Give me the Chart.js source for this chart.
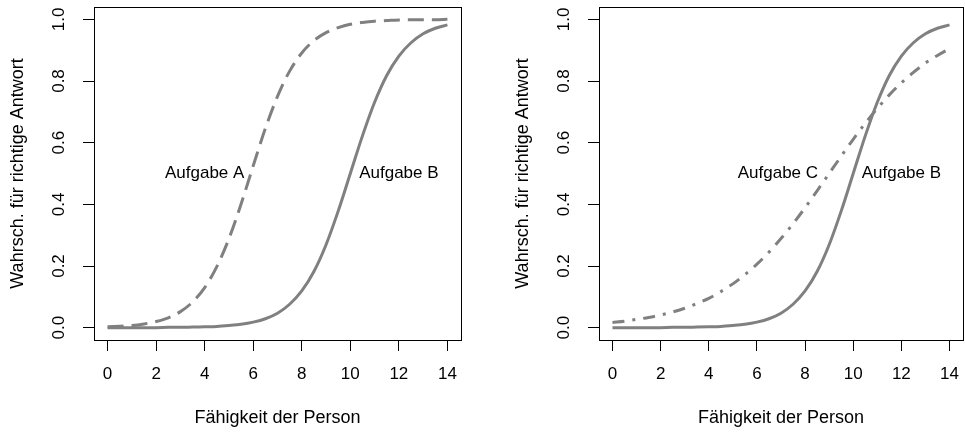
<!DOCTYPE html>
<html>
<head>
<meta charset="utf-8">
<script src="https://cdn.jsdelivr.net/npm/chart.js@4/dist/chart.umd.min.js"></script>
<style>
  body { margin: 0; background: #fff; }
  canvas { position: absolute; top: 0; }
</style>
</head>
<body>
<canvas id="left" width="482" height="433" style="left:0"></canvas>
<canvas id="right" width="483" height="433" style="left:482px"></canvas>
<script>
// ability values (x) and the item curves
var ability = [0, 0.5, 1, 1.5, 2, 2.5, 3, 3.5, 4, 4.5, 5, 5.5, 6, 6.5, 7, 7.5,
               8, 8.5, 9, 9.5, 10, 10.5, 11, 11.5, 12, 12.5, 13, 13.5, 14];
var probA = [0.003, 0.005, 0.007, 0.012, 0.020, 0.032, 0.052, 0.083, 0.130, 0.198,
             0.289, 0.401, 0.525, 0.646, 0.750, 0.832, 0.891, 0.931, 0.957, 0.973,
             0.984, 0.990, 0.994, 0.996, 0.998, 0.999, 0.999, 0.999, 1.000];
var probB = [0.000, 0.000, 0.000, 0.000, 0.000, 0.001, 0.001, 0.002, 0.003, 0.004,
             0.007, 0.011, 0.018, 0.029, 0.047, 0.076, 0.119, 0.182, 0.269, 0.378,
             0.500, 0.622, 0.731, 0.818, 0.881, 0.924, 0.953, 0.971, 0.982];
var probC = [0.017, 0.021, 0.027, 0.033, 0.041, 0.051, 0.063, 0.078, 0.095, 0.117,
             0.142, 0.172, 0.206, 0.245, 0.289, 0.337, 0.389, 0.444, 0.500, 0.556,
             0.611, 0.663, 0.711, 0.755, 0.794, 0.828, 0.858, 0.883, 0.905];

var xTicks = [0, 2, 4, 6, 8, 10, 12, 14];
var yTicks = [0, 0.2, 0.4, 0.6, 0.8, 1.0];

var leftNotes = [
  { text: 'Aufgabe A', x: 4, y: 0.5 },
  { text: 'Aufgabe B', x: 12, y: 0.5 }
];
var rightNotes = [
  { text: 'Aufgabe C', x: 6.87, y: 0.5 },
  { text: 'Aufgabe B', x: 12, y: 0.5 }
];

var FONT = '"Liberation Sans", Arial, Helvetica, sans-serif';
var INK = '#000';
var CURVE = '#808080';

// R style: full box round the plot, text labels inside it
var boxAndText = {
  id: 'boxAndText',
  afterDraw: function (chart) {
    var ctx = chart.ctx, a = chart.chartArea;
    ctx.save();
    ctx.strokeStyle = '#000';
    ctx.lineWidth = 1;
    ctx.strokeRect(Math.round(a.left) + 0.5, Math.round(a.top) + 0.5,
                   Math.round(a.right - a.left), Math.round(a.bottom - a.top));
    ctx.font = '17px ' + FONT;
    ctx.fillStyle = INK;
    ctx.textAlign = 'center';
    ctx.textBaseline = 'middle';
    chart.options.plugins.boxAndText.notes.forEach(function (n) {
      ctx.fillText(n.text, chart.scales.x.getPixelForValue(n.x),
                   chart.scales.y.getPixelForValue(n.y));
    });
    ctx.restore();
  }
};

function makeChart(id, series, notes, pad) {
  var datasets = series.map(function (s) {
    return {
      data: ability.map(function (x, i) { return { x: x, y: s.values[i] }; }),
      borderColor: CURVE,
      borderWidth: 3,
      borderDash: s.dash,
      pointRadius: 0,
      fill: false,
      cubicInterpolationMode: 'monotone'
    };
  });

  return new Chart(document.getElementById(id), {
    type: 'line',
    data: { datasets: datasets },
    options: {
      responsive: false,
      animation: false,
      events: [],
      layout: { padding: pad },
      plugins: {
        legend: { display: false },
        tooltip: { enabled: false },
        boxAndText: { notes: notes }
      },
      scales: {
        x: {
          type: 'linear',
          min: -0.56,
          max: 14.56,
          afterBuildTicks: function (s) { s.ticks = xTicks.map(function (v) { return { value: v }; }); },
          afterFit: function (s) { s.height = 93; s.paddingLeft = 0; s.paddingRight = 0; },
          grid: { drawOnChartArea: false, drawTicks: true, tickLength: 11, color: '#000', lineWidth: 1 },
          border: { display: false },
          ticks: { font: { size: 17, family: FONT }, color: INK, padding: 13, maxRotation: 0,
                   callback: function (v) { return String(v); } },
          title: { display: true, text: 'Fähigkeit der Person', color: INK,
                   font: { size: 18, family: FONT }, padding: { top: 0, bottom: 4 } }
        },
        y: {
          type: 'linear',
          min: -0.04,
          max: 1.04,
          afterBuildTicks: function (s) { s.ticks = yTicks.map(function (v) { return { value: v }; }); },
          afterFit: function (s) { s.width = 94; s.paddingTop = 0; s.paddingBottom = 0; },
          grid: { drawOnChartArea: false, drawTicks: true, tickLength: 11, color: '#000', lineWidth: 1 },
          border: { display: false },
          ticks: { font: { size: 17, family: FONT }, color: INK, padding: 12,
                   minRotation: 90, maxRotation: 90, crossAlign: 'center',
                   callback: function (v) { return v.toFixed(1); } },
          title: { display: true, text: 'Wahrsch. für richtige Antwort', color: INK,
                   font: { size: 18, family: FONT }, padding: { top: 7, bottom: 0 } }
        }
      }
    },
    plugins: [boxAndText]
  });
}

makeChart('left',
  [{ values: probA, dash: [16, 8] }, { values: probB, dash: [] }],
  leftNotes, { left: 0, top: 7, right: 21, bottom: 0 });

makeChart('right',
  [{ values: probC, dash: [12, 8, 3, 8] }, { values: probB, dash: [] }],
  rightNotes, { left: 23, top: 7, right: 2, bottom: 0 });
</script>
</body>
</html>
